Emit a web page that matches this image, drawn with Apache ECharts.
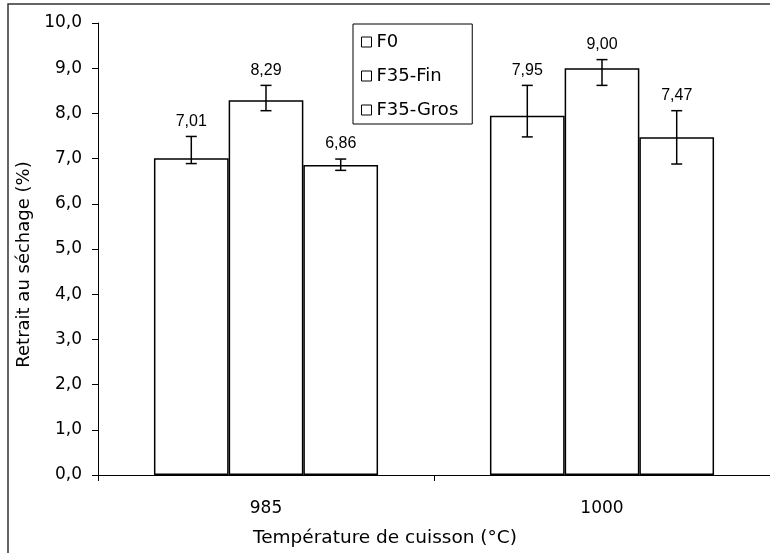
<!DOCTYPE html>
<html>
<head>
<meta charset="utf-8">
<script src="https://cdn.jsdelivr.net/npm/echarts@6/dist/echarts.min.js"></script>
<style>
  html, body { margin: 0; padding: 0; background: #fff; }
  #chart { width: 770px; height: 553px; }
</style>
</head>
<body>
<div id="chart"></div>
<script>
var categories = ['985', '1000'];
var seriesNames = ['F0', 'F35-Fin', 'F35-Gros'];
var f0 = [7.01, 7.95];
var f35Fin = [8.29, 9.00];
var f35Gros = [6.86, 7.47];
// error bar ends (low, high)
var f0Low = [6.89, 7.48], f0High = [7.49, 8.62];
var f35FinLow = [8.06, 8.62], f35FinHigh = [8.62, 9.19];
var f35GrosLow = [6.74, 6.88], f35GrosHigh = [6.99, 8.06];
var yTicks = [0, 10, 1];

var values = [f0, f35Fin, f35Gros];
var lows = [f0Low, f35FinLow, f35GrosLow];
var highs = [f0High, f35FinHigh, f35GrosHigh];

var font = 'DejaVu Sans, sans-serif';
var labelFont = 'Liberation Sans, Arial, sans-serif';
var catGap = 0.333;

function comma(v, d) {
    return v.toFixed(d).replace('.', ',');
}

var chart = echarts.init(document.getElementById('chart'));

var series = [];
seriesNames.forEach(function (name, i) {
    series.push({
        name: name,
        type: 'bar',
        data: values[i],
        barGap: '0%',
        barCategoryGap: (catGap * 100) + '%',
        itemStyle: { color: '#fff', borderColor: '#000', borderWidth: 1.5 },
        emphasis: { disabled: true }
    });
});

var errData = [];
for (var s = 0; s < 3; s++) {
    for (var c = 0; c < categories.length; c++) {
        errData.push([c, lows[s][c], highs[s][c], values[s][c], s]);
    }
}

series.push({
    type: 'custom',
    name: 'err',
    data: errData,
    z: 10,
    renderItem: function (params, api) {
        var c = api.value(0), lo = api.value(1), hi = api.value(2), v = api.value(3), s = api.value(4);
        var catW = api.size([1, 0])[0];
        var barW = catW * (1 - catGap) / 3;
        var center = api.coord([c, lo]);
        var x = center[0] + (s - 1) * barW;
        var yLo = center[1];
        var yHi = api.coord([c, hi])[1];
        var cap = 5.5;
        var st = { stroke: '#000', lineWidth: 1.5 };
        return {
            type: 'group',
            children: [
                { type: 'line', shape: { x1: x, y1: yLo, x2: x, y2: yHi }, style: st },
                { type: 'line', shape: { x1: x - cap, y1: yLo, x2: x + cap, y2: yLo }, style: st },
                { type: 'line', shape: { x1: x - cap, y1: yHi, x2: x + cap, y2: yHi }, style: st },
                { type: 'text', x: x, y: yHi - 15, style: {
                    text: comma(v, 2), fill: '#000', font: '16px ' + labelFont,
                    align: 'center', verticalAlign: 'middle' } }
            ]
        };
    }
});

var option = {
    animation: false,
    backgroundColor: '#fff',
    textStyle: { fontFamily: font },
    grid: { left: 98, top: 23, width: 674, height: 453 },
    legend: {
        data: seriesNames,
        orient: 'vertical',
        left: 353,
        top: 24,
        itemWidth: 10,
        itemHeight: 10,
        itemGap: 16,
        icon: 'rect',
        padding: [9, 14, 5, 8],
        backgroundColor: '#fff',
        borderColor: '#000',
        borderWidth: 1,
        borderRadius: 0,
        selectedMode: false,
        itemStyle: { color: '#fff', borderColor: '#000', borderWidth: 1 },
        textStyle: { fontSize: 18, color: '#000' }
    },
    xAxis: {
        type: 'category',
        data: categories,
        name: 'Température de cuisson (°C)',
        nameLocation: 'middle',
        nameGap: 54,
        nameTextStyle: { fontSize: 18.5, color: '#000', padding: [0, 98, 0, 0] },
        axisLine: { lineStyle: { color: '#000', width: 1 } },
        axisTick: { show: true, length: 6, lineStyle: { color: '#000' } },
        axisLabel: { fontSize: 17, color: '#000', margin: 25 },
        splitLine: { show: false }
    },
    yAxis: {
        type: 'value',
        min: yTicks[0],
        max: yTicks[1],
        interval: yTicks[2],
        name: 'Retrait au séchage (%)',
        nameLocation: 'middle',
        nameGap: 58,
        nameTextStyle: { fontSize: 18, color: '#000', padding: [0, 31, 0, 0] },
        axisLine: { show: true, lineStyle: { color: '#000', width: 1 } },
        axisTick: { show: true, length: 6, lineStyle: { color: '#000' } },
        axisLabel: { fontSize: 17, color: '#000', margin: 16,
            formatter: function (v) { return comma(v, 1); } },
        splitLine: { show: false }
    },
    graphic: [{
        type: 'rect',
        shape: { x: 8, y: 4, width: 800, height: 600 },
        style: { fill: 'none', stroke: '#333', lineWidth: 1.5 },
        silent: true,
        z: -1
    }],
    series: series
};

chart.setOption(option);
</script>
</body>
</html>
